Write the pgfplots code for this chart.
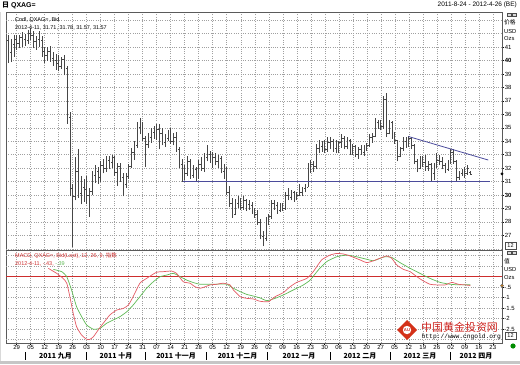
\documentclass[border=0pt]{standalone}
\usepackage{pgfplots}
\pgfplotsset{compat=1.18}
\usepackage{pgfplotstable}
\usepackage{fontspec}
\setmainfont{Liberation Sans}
\newfontfamily\cjk{Noto Sans CJK SC}
\newfontfamily\mono{Liberation Mono}
\definecolor{barcol}{RGB}{70,70,70}
\definecolor{gridc}{RGB}{160,160,160}
\definecolor{trend}{RGB}{75,75,155}
\definecolor{macdred}{RGB}{228,90,100}
\definecolor{siggreen}{RGB}{95,185,85}
\definecolor{zerored}{RGB}{205,45,45}
\definecolor{wmred}{RGB}{205,35,30}
\definecolor{framegray}{RGB}{90,90,90}

\pgfplotstableread{
x o h l c
0 41.5 41.9 39.8 40.6
1 40.6 41.6 39.9 41.2
2 41.2 41.9 40.3 41.6
3 41.6 41.9 40.8 41.3
4 41.3 41.9 40.9 41.7
5 41.7 42.1 41.0 41.6
6 41.6 42.0 41.1 41.5
7 41.5 42.3 41.2 42.0
8 42.0 42.4 41.5 41.9
9 41.9 42.2 40.9 41.4
10 41.4 41.8 40.8 41.6
11 41.6 42.2 41.0 41.5
12 41.5 41.8 40.3 40.7
13 40.7 41.0 39.8 40.4
14 40.4 41.0 40.0 40.7
15 40.7 41.1 39.9 40.2
16 40.2 40.6 39.6 40.0
17 40.0 40.5 39.3 39.8
18 39.8 40.4 39.2 39.6
19 39.6 40.3 39.4 40.1
20 40.1 40.4 38.9 39.4
21 39.4 39.6 35.3 35.8
22 35.8 36.2 29.9 30.5
23 30.5 30.8 26.1 29.9
24 29.9 32.8 29.6 31.8
25 31.8 33.4 29.8 30.1
26 30.1 31.4 29.3 30.6
27 30.6 31.2 29.5 30.4
28 30.4 31.4 29.3 30.0
29 30.0 30.5 28.4 30.3
30 30.3 31.8 30.0 31.5
31 31.5 32.2 30.9 31.8
32 31.8 32.1 30.8 31.3
33 31.3 32.5 31.0 32.2
34 32.2 32.7 31.6 32.0
35 32.0 32.9 31.7 32.6
36 32.6 32.9 31.9 32.4
37 32.4 33.0 32.0 32.8
38 32.8 32.9 31.4 31.7
39 31.7 32.4 30.7 32.1
40 32.1 32.4 31.0 31.3
41 31.3 31.6 29.9 30.8
42 30.8 31.6 30.5 31.4
43 31.4 32.3 31.2 32.1
44 32.1 33.5 32.0 33.2
45 33.2 34.0 32.6 33.7
46 33.7 35.4 33.5 35.0
47 35.0 35.7 34.5 35.2
48 35.2 35.4 34.0 34.2
49 34.2 34.4 32.1 33.8
50 33.8 34.6 33.5 34.3
51 34.3 35.0 33.9 34.7
52 34.7 35.1 34.2 34.5
53 34.5 35.3 34.1 34.9
54 34.9 35.3 33.4 34.6
55 34.6 35.0 33.7 33.9
56 33.9 34.5 33.6 34.2
57 34.2 34.8 34.0 34.6
58 34.6 35.0 33.8 34.0
59 34.0 34.6 33.7 34.3
60 34.3 34.7 33.2 33.4
61 33.4 33.6 32.0 32.3
62 32.3 32.7 31.0 31.7
63 31.7 32.2 31.1 31.6
64 31.6 32.9 31.4 32.5
65 32.5 32.7 31.2 31.5
66 31.5 32.2 31.3 31.9
67 31.9 32.1 31.0 31.3
68 31.3 32.6 31.2 32.3
69 32.3 32.8 31.8 32.0
70 32.0 33.1 31.7 32.8
71 32.8 33.7 32.5 33.0
72 33.0 33.3 32.4 32.6
73 32.6 33.2 32.0 32.8
74 32.8 33.1 32.2 32.5
75 32.5 33.0 32.0 32.7
76 32.7 32.9 31.6 31.8
77 31.8 32.3 31.2 32.0
78 32.0 32.1 30.0 30.2
79 30.2 30.7 29.1 29.4
80 29.4 29.8 28.3 28.6
81 28.6 29.7 28.5 29.4
82 29.4 29.9 29.0 29.6
83 29.6 29.8 28.9 29.1
84 29.1 29.9 28.9 29.6
85 29.6 29.7 28.8 29.3
86 29.3 29.6 28.9 29.2
87 29.2 29.5 28.6 28.8
88 28.8 29.0 28.3 28.6
89 28.6 28.9 27.8 28.0
90 28.0 28.2 26.7 26.9
91 26.9 27.3 26.2 26.8
92 26.8 28.4 26.6 28.1
93 28.1 28.6 27.8 28.4
94 28.4 29.6 28.2 29.4
95 29.4 29.6 28.9 29.2
96 29.2 29.5 28.6 28.9
97 28.9 29.4 28.7 29.2
98 29.2 29.4 28.8 29.0
99 29.0 30.2 28.9 30.0
100 30.0 30.5 29.6 29.8
101 29.8 30.4 29.6 30.2
102 30.2 30.3 29.5 29.7
103 29.7 30.2 29.6 30.0
104 30.0 30.8 29.9 30.2
105 30.2 30.6 29.9 30.5
106 30.5 30.8 30.2 30.6
107 30.6 32.4 30.6 32.0
108 32.0 32.6 31.6 32.3
109 32.3 32.5 31.7 32.1
110 32.1 33.8 31.9 33.5
111 33.5 34.1 33.1 33.6
112 33.6 34.0 33.2 33.8
113 33.8 34.1 33.1 33.4
114 33.4 34.3 33.2 33.9
115 33.9 34.3 33.4 34.0
116 34.0 34.2 33.2 33.5
117 33.5 34.1 33.1 33.7
118 33.7 34.0 33.1 33.9
119 33.9 34.5 33.5 34.2
120 34.2 34.4 33.4 33.6
121 33.6 34.3 33.4 34.1
122 34.1 34.2 33.0 33.3
123 33.3 33.8 33.0 33.6
124 33.6 33.7 32.8 33.0
125 33.0 33.6 32.7 33.4
126 33.4 33.7 33.0 33.2
127 33.2 33.7 32.9 33.5
128 33.5 33.9 33.3 33.7
129 33.7 34.5 33.6 34.3
130 34.3 34.6 33.9 34.4
131 34.4 35.7 34.3 35.4
132 35.4 35.6 34.9 35.3
133 35.3 35.6 34.8 35.1
134 35.1 37.4 34.9 37.1
135 37.1 37.6 34.3 34.6
136 34.6 35.6 34.5 35.4
137 35.4 35.5 34.2 34.6
138 34.6 34.7 33.8 34.1
139 34.1 34.1 32.5 32.9
140 32.9 33.6 32.8 33.5
141 33.5 34.3 33.3 34.0
142 34.0 34.3 33.5 33.8
143 33.8 34.4 33.6 34.2
144 34.2 34.3 33.4 33.7
145 33.7 33.8 32.3 32.5
146 32.5 32.7 31.7 32.0
147 32.0 32.9 31.9 32.6
148 32.6 32.9 32.1 32.4
149 32.4 33.0 31.8 32.1
150 32.1 32.5 31.8 32.3
151 32.3 32.4 31.0 31.6
152 31.6 32.4 31.1 32.2
153 32.2 33.1 32.0 32.6
154 32.6 33.0 32.2 32.5
155 32.5 32.8 31.9 32.2
156 32.2 32.4 31.6 31.9
157 31.9 32.6 31.8 32.4
158 32.4 33.4 32.3 33.2
159 33.2 33.4 32.3 32.5
160 32.5 32.6 31.0 31.3
161 31.3 31.8 31.1 31.6
162 31.6 31.9 31.4 31.7
163 31.7 32.1 31.3 31.6
164 31.6 32.2 31.5 32.0
165 31.71 31.78 31.57 31.57
}\ohlc

\pgfplotsset{chartax/.style={
  scale only axis, width=496bp,
  xmin=-0.8, xmax=176.3,
  axis line style={framegray, line width=0.8bp},
  grid=major,
  major grid style={gridc, line width=0.4bp, dash pattern=on 1bp off 1.3bp},
  xtick={3,8,...,173},
  ytick pos=right, yticklabel pos=right,
  tick align=outside, major tick length=2bp,
  tick style={black, line width=0.5bp},
  tick label style={font=\fontsize{6}{6}\selectfont},
  yticklabel style={inner sep=0.6bp},
  /pgf/number format/assume math mode=true,
},
hidemark/.style={only marks, mark=*, mark size=0pt, mark options={draw=none, fill=none, draw opacity=0, fill opacity=0}, forget plot}}

\begin{document}
\begin{tikzpicture}[x=1bp,y=1bp]
\useasboundingbox (0,0) rectangle (520,364);
% bottom gray strip and left strip
\fill[gray!45] (0,0) rectangle (520,3.5);
\fill[gray!30] (0,3.5) rectangle (1.2,352);

% ===== price panel =====
\begin{axis}[chartax, at={(6bp,114bp)}, anchor=south west, height=238bp,
  ymin=25.91, ymax=43.61,
  ytick={27,28,...,41},
  yticklabels={27,28,29,\textbf{30},31,32,33,34,35,36,37,38,39,\textbf{40},41},
  extra y ticks={26,42,43}, extra y tick labels={},
  extra y tick style={grid=major, tick style={draw=none}},
  xticklabels={}, xtick style={draw=none},
  clip mode=individual]
% high-low range
\addplot[hidemark,
  error bars/.cd, y dir=plus, y explicit, error mark=none,
  error bar style={barcol, line width=0.55bp}]
  table[x=x, y=l, y error expr=\thisrow{h}-\thisrow{l}] {\ohlc};
% open ticks (left)
\addplot[hidemark,
  error bars/.cd, x dir=minus, x fixed=0.42, error mark=none,
  error bar style={barcol, line width=0.55bp}]
  table[x=x, y=o] {\ohlc};
% close ticks (right)
\addplot[hidemark,
  error bars/.cd, x dir=plus, x fixed=0.42, error mark=none,
  error bar style={barcol, line width=0.55bp}]
  table[x=x, y=c] {\ohlc};
\addplot[trend, line width=0.8bp] coordinates {(62.5,31.0) (172,31.0)};
\addplot[trend, line width=0.8bp] coordinates {(142.9,34.35) (171.4,32.6)};
\addplot[only marks, mark=*, mark size=1.3bp, black, clip=false] coordinates {(176.3,31.57)};
\end{axis}

% ===== MACD panel =====
\begin{axis}[chartax, at={(6bp,21bp)}, anchor=south west, height=93bp,
  ymin=-3.167, ymax=1.262,
  ytick={-2.5,-2,-1.5,-1,-0.5},
  yticklabels={-2.5,-2,-1.5,-1,-.5},
  extra y ticks={-3,0,0.5,1}, extra y tick labels={},
  extra y tick style={grid=major, tick style={draw=none}},
  xtick pos=bottom, major tick length=1.5bp,
  xticklabels={29,05,12,19,26,03,10,17,24,31,07,14,21,28,05,12,19,26,02,09,16,23,30,06,13,20,27,05,12,19,26,02,09,16,23},
  xticklabel style={inner sep=0.8bp},
  clip mode=individual]
\addplot[zerored, line width=0.9bp] coordinates {(-0.8,0) (176.3,0)};
\addplot[siggreen, line width=0.7bp, smooth, tension=0.3] coordinates {
(16.1,0.34)(19.1,0.23)(20.9,-0.01)(22.6,-0.64)(24.4,-1.44)(26.2,-1.91)(28.0,-2.31)(30.4,-2.51)(32.75,-2.47)(35.1,-2.23)(37.5,-2.07)(39.9,-1.91)(42.3,-1.68)(44.6,-1.36)(47.0,-0.96)(49.4,-0.56)(51.8,-0.25)(54.2,-0.01)(56.6,0.07)(59.0,0.15)(61.4,-0.01)(63.7,-0.17)(66.1,-0.29)(68.5,-0.37)(70.9,-0.37)(73.3,-0.37)(75.7,-0.36)(78.0,-0.37)(80.4,-0.56)(82.8,-0.72)(85.1,-0.85)(87.5,-0.93)(89.9,-1.02)(92.3,-1.15)(95.3,-1.04)(98.2,-0.88)(101.8,-0.64)(105.4,-0.40)(107.8,-0.17)(110.7,0.31)(113.7,0.71)(117.3,0.94)(120.9,1.02)(124.4,0.94)(128.0,0.82)(130.4,0.75)(132.8,0.87)(134.5,0.94)(136.9,0.91)(139.9,0.66)(143.5,0.39)(147.0,0.15)(150.6,-0.09)(154.2,-0.28)(157.8,-0.37)(161.3,-0.40)(165,-0.39)};
\addplot[macdred, line width=0.7bp, smooth, tension=0.3] coordinates {
(14.3,0.39)(17.3,0.15)(19.6,-0.09)(20.9,-0.32)(22.0,-0.96)(23.2,-1.75)(24.4,-2.39)(26.2,-2.79)(28.0,-2.99)(29.2,-2.99)(30.4,-2.87)(32.1,-2.55)(33.9,-2.23)(36.3,-1.83)(38.7,-1.60)(41.1,-1.52)(42.9,-1.36)(44.6,-0.96)(47.0,-0.32)(49.4,-0.09)(52.9,0.20)(55.3,0.23)(58.3,0.26)(60.1,0.15)(62.5,-0.25)(64.9,-0.32)(66.7,-0.49)(68.5,-0.56)(70.3,-0.49)(72.1,-0.40)(74.4,-0.37)(76.8,-0.32)(79.2,-0.40)(80.4,-0.64)(82.8,-0.96)(85.1,-1.04)(87.5,-1.07)(89.9,-1.18)(92.9,-1.20)(95.3,-0.96)(98.2,-0.77)(100.6,-0.49)(103.0,-0.28)(106.6,-0.09)(108.9,0.23)(111.9,0.79)(114.9,1.02)(117.3,1.10)(119.7,1.07)(122.0,0.98)(125.6,0.79)(128.0,0.66)(130.4,0.75)(132.8,0.87)(135.1,0.98)(136.9,0.87)(138.7,0.55)(141.1,0.34)(143.5,0.23)(145.9,-0.01)(148.2,-0.21)(150.6,-0.37)(153.0,-0.40)(156.0,-0.40)(158.4,-0.28)(160.7,-0.37)(163.1,-0.40)(165,-0.43)};
\addplot[only marks, mark=*, mark size=1.5bp, draw=black!60, fill=orange!80!olive, clip=false] coordinates {(176.3,-0.44)};
\end{axis}

% frame top line
\draw[framegray, line width=0.8bp] (6,352) -- (502,352);

% ===== texts =====
\node[anchor=west, inner sep=0, font=\fontsize{7}{7}\selectfont\bfseries] at (2,358.5) {{\cjk 日} QXAG=};
\node[anchor=east, inner sep=0, font=\fontsize{6.5}{6.5}\selectfont] at (517,359) {2011-8-24 - 2012-4-26 (BE)};
\node[anchor=west, inner sep=0, font=\fontsize{5.5}{5.5}\selectfont] at (15,344) {Cndl, QXAG=, Bid};
\node[anchor=west, inner sep=0, font=\fontsize{5.5}{5.5}\selectfont] at (15,336) {2012-4-11, 31.71, 31.78, 31.57, 31.57};
\node[anchor=west, inner sep=0, font=\fontsize{5.5}{5.5}\selectfont, text=zerored] at (15,108) {MACD, QXAG=, Bid(Last), 12, 26, 9, {\cjk 指数}};
\node[anchor=west, inner sep=0, font=\fontsize{5.5}{5.5}\selectfont] at (15,100) {\textcolor{zerored}{2012-4-11, -.43,} \textcolor{siggreen}{-.39}};

% right axis captions
\begin{scope}[font=\fontsize{5.8}{5.8}\selectfont]
\node[anchor=west, inner sep=0] at (504,341.5) {\cjk 价格};
\node[anchor=west, inner sep=0] at (504,332.5) {USD};
\node[anchor=west, inner sep=0] at (504,325) {Ozs};
\node[anchor=west, inner sep=0] at (504,103) {\cjk 值};
\node[anchor=west, inner sep=0] at (504,94) {USD};
\node[anchor=west, inner sep=0] at (504,86) {Ozs};
\end{scope}
% small icons
\foreach \yy in {347.5,109.5}{
  \draw[black!70, line width=0.4bp, fill=black!15] (507.5,\yy) rectangle ++(4,3.5);
  \draw[black!70, line width=0.4bp, fill=black!15] (512.5,\yy) rectangle ++(4,3.5);
}
\foreach \yy in {114.5,25}{
  \draw[black!70, line width=0.5bp, fill=white] (505,\yy) rectangle ++(11,7);
  \node[inner sep=0, font=\fontsize{5.5}{5.5}\selectfont] at (510.5,\yy+3.5) {12};
}
\fill[green!55!black] (513,18) circle (2.6);

% month labels
\foreach \xx in {25,86,145,206.7,267.3,330,390,450.5}{
  \draw[black, line width=0.6bp] (\xx,4.5) -- (\xx,12);
}
\begin{scope}[font=\fontsize{7}{7}\selectfont\bfseries\cjk]
\node[inner sep=0] at (55.5,8.5) {2011 九月};
\node[inner sep=0] at (116,8.5) {2011 十月};
\node[inner sep=0] at (176,8.5) {2011 十一月};
\node[inner sep=0] at (237.5,8.5) {2011 十二月};
\node[inner sep=0] at (299,8.5) {2012 一月};
\node[inner sep=0] at (360,8.5) {2012 二月};
\node[inner sep=0] at (420,8.5) {2012 三月};
\node[inner sep=0] at (476,8.5) {2012 四月};
\end{scope}

% watermark
\fill[wmred!85!orange] (407,44) -- (417,34) -- (407,24) -- (397,34) -- cycle;
\fill[white] (407,34) circle (4.2);
\node[inner sep=0, font=\fontsize{4.2}{4.2}\selectfont\bfseries, text=wmred] at (407,34) {AU};
\node[anchor=west, inner sep=0, font=\fontsize{11}{11}\selectfont\cjk, text=wmred] at (421,36.5) {中国黄金投资网};
\node[anchor=west, inner sep=0, font=\fontsize{6.3}{6.3}\selectfont\mono] at (421.5,27) {http://www.cngold.org};
\end{tikzpicture}
\end{document}
